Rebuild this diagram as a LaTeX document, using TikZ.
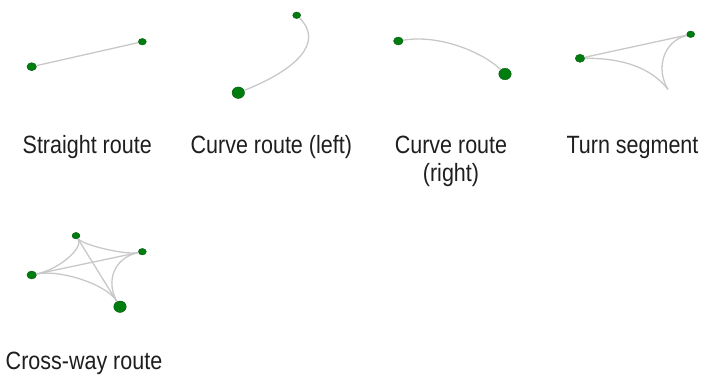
\documentclass[tikz,border=0pt]{standalone}
\usepackage{fontspec}
\setmainfont[FakeStretch=0.86]{Liberation Sans}
\usetikzlibrary{shapes.geometric,calc}
\definecolor{dotgreen}{RGB}{0,125,15}
\definecolor{routegray}{RGB}{200,200,200}
\definecolor{labelink}{RGB}{30,30,30}
\tikzset{
  dotnode/.style={ellipse,fill=dotgreen,draw=dotgreen!70!black,line width=0.4pt,inner sep=0pt},
  smalldot/.style={dotnode,minimum width=8pt,minimum height=6.5pt},
  middot/.style={dotnode,minimum width=9.5pt,minimum height=8pt},
  bigdot/.style={dotnode,minimum width=12.5pt,minimum height=11.5pt},
  route/.style={draw=routegray,line width=1.3pt},
  label/.style={font=\fontsize{25}{28}\selectfont,text=labelink,anchor=base,inner sep=0pt,align=center}
}
\begin{document}
\begin{tikzpicture}[x=1pt,y=-1pt]
\useasboundingbox (0,0) rectangle (705,378);
% dots
\node[middot] (sa) at (31.7,66.7) {};
\node[smalldot] (sb) at (142.3,41.7) {};
\node[bigdot] (lp) at (238.3,92.7) {};
\node[smalldot] (lq) at (296.7,15.3) {};
\node[middot] (rl) at (398.3,41) {};
\node[bigdot] (rr) at (505,74) {};
\node[middot] (tl) at (580,58.3) {};
\node[smalldot] (tr) at (690.7,34.3) {};
\coordinate (tc) at (668,89.3);
\node[smalldot] (ct) at (76,235.7) {};
\node[smalldot] (cr) at (142.3,251.7) {};
\node[middot] (cl) at (31.7,275) {};
\node[bigdot] (cb) at (120,306.7) {};
\coordinate (cm) at (94,262);
% routes
\path[route] (sa) -- (sb);
\path[route] (lp) .. controls (293.8,70.8) and (325.3,43.3) .. (lq);
\path[route] (rl) .. controls (440,34) and (484,53) .. (rr);
\path[route] (tl) -- (tr);
\path[route] (tl) .. controls (625,58) and (652,69) .. (tc);
\path[route] (tr) .. controls (662,42) and (656,70) .. (tc);
\path[route] (cl) -- (cr);
\path[route] (ct) -- (cb);
\path[route] (ct) .. controls ($(ct)!0.35!(cm)$) and ($(cr)!0.35!(cm)$) .. (cr);
\path[route] (cr) .. controls ($(cr)!0.6!(cm)$) and ($(cb)!0.55!(cm)$) .. (cb);
\path[route] (cb) .. controls ($(cb)!0.5!(cm)$) and ($(cl)!0.45!(cm)$) .. (cl);
\path[route] (cl) .. controls ($(cl)!0.45!(cm)$) and ($(ct)!0.45!(cm)$) .. (ct);
% labels
\node[label] (l1) at (87.2,153.5) {Straight route};
\node[label] (l2) at (271.3,153.5) {Curve route (left)};
\node[label] (l3) at (451,181.5) {Curve route\\(right)};
\node[label] (l4) at (632.5,153.5) {Turn segment};
\node[label] (l5) at (84,369.5) {Cross-way route};
\end{tikzpicture}
\end{document}
